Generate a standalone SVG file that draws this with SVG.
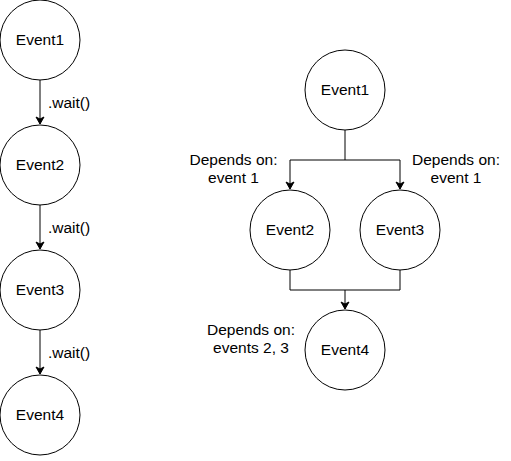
<svg xmlns="http://www.w3.org/2000/svg" width="511" height="461" viewBox="0 0 511 461">
<defs>
<marker id="arr" markerWidth="10" markerHeight="10" refX="8" refY="5" orient="auto" markerUnits="userSpaceOnUse">
<path d="M1,1 L8,5 L1,9 L3,5 Z" fill="#000" stroke="#000" stroke-width="1"/>
</marker>
<style>
.n{fill:#fff;stroke:#000;stroke-width:1}
.t{font-family:"Liberation Sans",Arial,sans-serif;font-size:15.5px;fill:#000;text-anchor:middle}
.l{font-family:"Liberation Sans",Arial,sans-serif;font-size:15.5px;fill:#000}
.c{fill:none;stroke:#000;stroke-width:1}
</style>
</defs>
<rect width="511" height="461" fill="#fff"/>
<g id="connectors">
<line class="c" x1="40" y1="80" x2="40" y2="124" marker-end="url(#arr)"/>
<line class="c" x1="40" y1="205" x2="40" y2="249" marker-end="url(#arr)"/>
<line class="c" x1="40" y1="330" x2="40" y2="374" marker-end="url(#arr)"/>
<path class="c" d="M345,130 V160 H290 V189" marker-end="url(#arr)"/>
<path class="c" d="M345,160 H400 V189" marker-end="url(#arr)"/>
<path class="c" d="M290,270 V290 H345 V309" marker-end="url(#arr)"/>
<path class="c" d="M400,270 V290 H345"/>
<text class="l" x="48" y="108">.wait()</text>
<text class="l" x="48" y="233">.wait()</text>
<text class="l" x="48" y="358">.wait()</text>
<text class="t" x="233.5" y="165">Depends on:</text>
<text class="t" x="233.5" y="183">event 1</text>
<text class="t" x="456" y="165">Depends on:</text>
<text class="t" x="456" y="183">event 1</text>
<text class="t" x="251" y="335">Depends on:</text>
<text class="t" x="251" y="353">events 2, 3</text>
</g>
<g id="l-event1"><circle class="n" cx="40" cy="40" r="40"/><text class="t" x="40" y="45">Event1</text></g>
<g id="l-event2"><circle class="n" cx="40" cy="165" r="40"/><text class="t" x="40" y="170">Event2</text></g>
<g id="l-event3"><circle class="n" cx="40" cy="290" r="40"/><text class="t" x="40" y="295">Event3</text></g>
<g id="l-event4"><circle class="n" cx="40" cy="415" r="40"/><text class="t" x="40" y="420">Event4</text></g>
<g id="r-event1"><circle class="n" cx="345" cy="90" r="40"/><text class="t" x="345" y="95">Event1</text></g>
<g id="r-event2"><circle class="n" cx="290" cy="230" r="40"/><text class="t" x="290" y="235">Event2</text></g>
<g id="r-event3"><circle class="n" cx="400" cy="230" r="40"/><text class="t" x="400" y="235">Event3</text></g>
<g id="r-event4"><circle class="n" cx="345" cy="350" r="40"/><text class="t" x="345" y="355">Event4</text></g>
</svg>
